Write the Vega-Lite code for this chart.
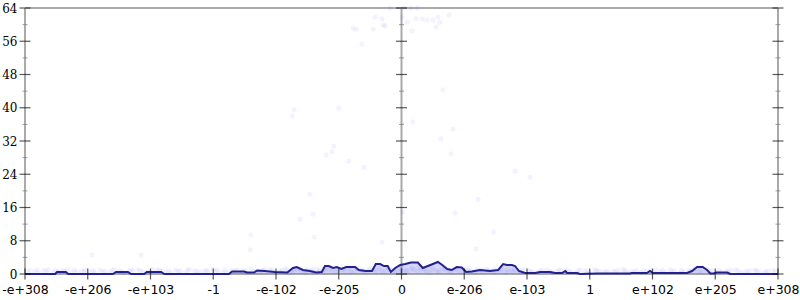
{
  "$schema": "https://vega.github.io/schema/vega-lite/v6.json",
  "width": 753,
  "height": 266,
  "autosize": {"type": "none"},
  "padding": {"left": 25, "top": 8, "right": 22, "bottom": 26},
  "background": "white",
  "config": {"view": {"stroke": null}, "axis": {"grid": false, "domain": false, "ticks": false, "tickSize": 0, "labelColor": "#000", "labelOverlap": false, "labelFlush": false}, "axisY": {"labelFont": "DejaVu Serif", "labelFontSize": 12, "labelPadding": 8}, "axisX": {"labelFont": "DejaVu Sans", "labelFontSize": 12.5, "labelPadding": 9}},
  "datasets": {
    "vaxes": [{"x": -6}, {"x": 0}, {"x": 6}],
    "haxes": [{"y": 0}, {"y": 64}],
    "yticks": [
      {"y": 0, "kind": "major"}, {"y": 4, "kind": "minor"}, {"y": 8, "kind": "major"}, {"y": 12, "kind": "minor"},
      {"y": 16, "kind": "major"}, {"y": 20, "kind": "minor"}, {"y": 24, "kind": "major"}, {"y": 28, "kind": "minor"},
      {"y": 32, "kind": "major"}, {"y": 36, "kind": "minor"}, {"y": 40, "kind": "major"}, {"y": 44, "kind": "minor"},
      {"y": 48, "kind": "major"}, {"y": 52, "kind": "minor"}, {"y": 56, "kind": "major"}, {"y": 60, "kind": "minor"},
      {"y": 64, "kind": "major"}
    ],
    "xticks": [{"x": -6}, {"x": -5}, {"x": -4}, {"x": -3}, {"x": -2}, {"x": -1}, {"x": 0}, {"x": 1}, {"x": 2}, {"x": 3}, {"x": 4}, {"x": 5}, {"x": 6}],
    "density": [
      {"x": -6, "y": 0}, {"x": -5.52, "y": 0}, {"x": -5.49, "y": 0.48}, {"x": -5.35, "y": 0.48}, {"x": -5.31, "y": 0},
      {"x": -4.6, "y": 0}, {"x": -4.55, "y": 0.48}, {"x": -4.36, "y": 0.48}, {"x": -4.31, "y": 0}, {"x": -4.1, "y": 0},
      {"x": -4.06, "y": 0.48}, {"x": -3.83, "y": 0.48}, {"x": -3.78, "y": 0}, {"x": -2.75, "y": 0}, {"x": -2.7, "y": 0.6},
      {"x": -2.51, "y": 0.6}, {"x": -2.46, "y": 0.36}, {"x": -2.35, "y": 0.36}, {"x": -2.3, "y": 0.84}, {"x": -2.18, "y": 0.72},
      {"x": -2.02, "y": 0.48}, {"x": -1.82, "y": 0.36}, {"x": -1.73, "y": 1.44}, {"x": -1.67, "y": 1.68}, {"x": -1.57, "y": 0.96},
      {"x": -1.46, "y": 0.72}, {"x": -1.36, "y": 0.36}, {"x": -1.27, "y": 0.48}, {"x": -1.22, "y": 1.92}, {"x": -1.16, "y": 1.92},
      {"x": -1.09, "y": 1.44}, {"x": -1.03, "y": 1.68}, {"x": -0.96, "y": 1.2}, {"x": -0.88, "y": 1.68}, {"x": -0.74, "y": 1.68},
      {"x": -0.68, "y": 0.96}, {"x": -0.57, "y": 0.72}, {"x": -0.47, "y": 0.72}, {"x": -0.41, "y": 2.4}, {"x": -0.34, "y": 2.4},
      {"x": -0.28, "y": 1.92}, {"x": -0.22, "y": 1.92}, {"x": -0.17, "y": 0.48}, {"x": -0.1, "y": 1.44}, {"x": -0.02, "y": 2.17},
      {"x": 0.06, "y": 2.4}, {"x": 0.15, "y": 2.77}, {"x": 0.26, "y": 2.77}, {"x": 0.34, "y": 1.44}, {"x": 0.42, "y": 1.92},
      {"x": 0.5, "y": 2.4}, {"x": 0.58, "y": 2.89}, {"x": 0.65, "y": 2.17}, {"x": 0.73, "y": 1.2}, {"x": 0.8, "y": 0.96},
      {"x": 0.88, "y": 1.68}, {"x": 0.96, "y": 1.56}, {"x": 1.03, "y": 0.48}, {"x": 1.12, "y": 0.6}, {"x": 1.25, "y": 0.96},
      {"x": 1.41, "y": 0.72}, {"x": 1.54, "y": 0.96}, {"x": 1.62, "y": 2.4}, {"x": 1.68, "y": 2.17}, {"x": 1.76, "y": 2.17},
      {"x": 1.81, "y": 1.92}, {"x": 1.87, "y": 0.72}, {"x": 1.97, "y": 0.24}, {"x": 2.13, "y": 0.24}, {"x": 2.21, "y": 0.48},
      {"x": 2.37, "y": 0.48}, {"x": 2.45, "y": 0.24}, {"x": 2.56, "y": 0.24}, {"x": 2.61, "y": 0.72}, {"x": 2.64, "y": 0.24},
      {"x": 2.8, "y": 0.24}, {"x": 2.84, "y": 0}, {"x": 3.12, "y": 0.12}, {"x": 3.64, "y": 0.12}, {"x": 3.67, "y": 0.24},
      {"x": 3.91, "y": 0.24}, {"x": 3.96, "y": 0.72}, {"x": 4.01, "y": 0.24}, {"x": 4.55, "y": 0.24}, {"x": 4.63, "y": 0.72},
      {"x": 4.71, "y": 1.68}, {"x": 4.8, "y": 1.68}, {"x": 4.87, "y": 0.96}, {"x": 4.92, "y": 0.12}, {"x": 4.98, "y": 0.12},
      {"x": 5.01, "y": 0.36}, {"x": 5.19, "y": 0.36}, {"x": 5.24, "y": 0}, {"x": 6, "y": 0}
    ],
    "points": [
      {"x": -0.42, "y": 61.8}, {"x": -0.31, "y": 61.4}, {"x": -0.29, "y": 59.9}, {"x": -0.26, "y": 59.7}, {"x": -0.45, "y": 58.9},
      {"x": -0.77, "y": 59.2}, {"x": -0.72, "y": 58.9}, {"x": -0.63, "y": 55.3}, {"x": 0.01, "y": 61.8}, {"x": 0.09, "y": 60.6},
      {"x": 0.15, "y": 64}, {"x": 0.25, "y": 64}, {"x": 0.23, "y": 61.4}, {"x": 0.33, "y": 61.4}, {"x": 0.41, "y": 61.1},
      {"x": 0.5, "y": 61.1}, {"x": 0.58, "y": 61.8}, {"x": 0.61, "y": 60.6}, {"x": 0.55, "y": 59.4}, {"x": 0.17, "y": 58.5},
      {"x": 0.76, "y": 62.3}, {"x": 0.66, "y": 44.3}, {"x": -0.18, "y": 64}, {"x": 0.04, "y": 64},
      {"x": -1.71, "y": 39.5}, {"x": -1.74, "y": 38.0}, {"x": -1.0, "y": 39.9}, {"x": -1.08, "y": 30.8}, {"x": -1.11, "y": 29.4},
      {"x": -1.2, "y": 28.6}, {"x": -0.84, "y": 27.2}, {"x": -0.6, "y": 25.7}, {"x": -1.46, "y": 19.2}, {"x": -1.41, "y": 14.4},
      {"x": -1.62, "y": 13.2}, {"x": -2.4, "y": 9.4}, {"x": -1.39, "y": 8.9},
      {"x": 0.18, "y": 36.6}, {"x": 0.82, "y": 34.9}, {"x": 0.63, "y": 32.5}, {"x": 0.79, "y": 28.9}, {"x": 1.81, "y": 24.8},
      {"x": 2.05, "y": 23.3}, {"x": 1.22, "y": 18.0}, {"x": 0.85, "y": 14.7}, {"x": 1.47, "y": 10.1}, {"x": 0.02, "y": 14.9},
      {"x": -4.93, "y": 4.57}, {"x": -4.15, "y": 4.57}, {"x": -2.41, "y": 5.8}, {"x": -0.31, "y": 7.7}, {"x": 1.19, "y": 6.0},
      {"x": -5.85, "y": 0.5}, {"x": -5.7, "y": 0.9}, {"x": -5.55, "y": 0.4}, {"x": -5.4, "y": 0.8}, {"x": -5.25, "y": 0.3},
      {"x": -5.1, "y": 0.7}, {"x": -4.95, "y": 0.5}, {"x": -4.8, "y": 1.0}, {"x": -4.65, "y": 0.4}, {"x": -4.5, "y": 0.8},
      {"x": -4.35, "y": 0.6}, {"x": -4.2, "y": 1.1}, {"x": -4.05, "y": 0.4}, {"x": -3.9, "y": 0.9}, {"x": -3.75, "y": 0.5},
      {"x": -3.6, "y": 1.0}, {"x": -3.45, "y": 0.3}, {"x": -3.3, "y": 0.8}, {"x": -3.15, "y": 0.6}, {"x": -3.0, "y": 1.1},
      {"x": -2.85, "y": 0.4}, {"x": -2.7, "y": 0.9}, {"x": -2.55, "y": 0.6}, {"x": -2.4, "y": 1.2}, {"x": -2.25, "y": 0.5},
      {"x": -2.1, "y": 1.0}, {"x": -1.95, "y": 0.7}, {"x": -1.85, "y": 1.3}, {"x": -1.75, "y": 0.5}, {"x": -1.65, "y": 1.0},
      {"x": -1.55, "y": 0.3}, {"x": -1.45, "y": 0.8}, {"x": -1.35, "y": 1.2}, {"x": -1.25, "y": 0.6}, {"x": -1.15, "y": 1.0},
      {"x": -1.05, "y": 0.4}, {"x": -0.95, "y": 0.9}, {"x": -0.85, "y": 1.3}, {"x": -0.75, "y": 0.6}, {"x": -0.65, "y": 1.1},
      {"x": -0.55, "y": 0.4}, {"x": -0.45, "y": 0.9}, {"x": -0.35, "y": 1.4}, {"x": -0.25, "y": 0.7}, {"x": -0.15, "y": 1.1},
      {"x": -0.05, "y": 0.5}, {"x": 0.05, "y": 1.0}, {"x": 0.15, "y": 1.4}, {"x": 0.25, "y": 0.6}, {"x": 0.35, "y": 1.2},
      {"x": 0.45, "y": 0.4}, {"x": 0.55, "y": 0.9}, {"x": 0.65, "y": 1.3}, {"x": 0.75, "y": 0.7}, {"x": 0.85, "y": 1.1},
      {"x": 0.95, "y": 0.5}, {"x": 1.05, "y": 1.0}, {"x": 1.15, "y": 0.4}, {"x": 1.25, "y": 0.8}, {"x": 1.35, "y": 1.2},
      {"x": 1.45, "y": 0.6}, {"x": 1.55, "y": 1.0}, {"x": 1.65, "y": 0.4}, {"x": 1.75, "y": 0.9}, {"x": 1.85, "y": 0.6},
      {"x": 1.95, "y": 1.1}, {"x": 2.1, "y": 0.5}, {"x": 2.25, "y": 0.9}, {"x": 2.4, "y": 0.4}, {"x": 2.55, "y": 0.8},
      {"x": 2.7, "y": 0.5}, {"x": 2.85, "y": 1.0}, {"x": 3.0, "y": 0.3}, {"x": 3.15, "y": 0.7}, {"x": 3.3, "y": 0.5},
      {"x": 3.45, "y": 0.9}, {"x": 3.6, "y": 0.4}, {"x": 3.75, "y": 0.8}, {"x": 3.9, "y": 0.5}, {"x": 4.05, "y": 1.0},
      {"x": 4.2, "y": 0.4}, {"x": 4.35, "y": 0.8}, {"x": 4.5, "y": 0.6}, {"x": 4.65, "y": 1.0}, {"x": 4.8, "y": 0.4},
      {"x": 4.95, "y": 0.8}, {"x": 5.1, "y": 0.5}, {"x": 5.25, "y": 0.9}, {"x": 5.4, "y": 0.4}, {"x": 5.55, "y": 0.8},
      {"x": 5.7, "y": 0.5}, {"x": 5.85, "y": 0.7},
      {"x": -0.9, "y": 0.6}, {"x": -0.6, "y": 0.8}, {"x": -0.3, "y": 0.5}, {"x": -0.1, "y": 0.8}, {"x": 0.1, "y": 0.6},
      {"x": 0.3, "y": 0.9}, {"x": 0.6, "y": 0.5}, {"x": 0.9, "y": 0.8}, {"x": -1.3, "y": 0.9}, {"x": 1.3, "y": 0.5},
      {"x": -5.92, "y": 0.8}, {"x": -5.78, "y": 0.3}, {"x": -5.63, "y": 1.1}, {"x": -5.47, "y": 0.6}, {"x": -5.32, "y": 1.0},
      {"x": -5.18, "y": 0.4}, {"x": -5.03, "y": 0.9}, {"x": -4.88, "y": 0.3}, {"x": -4.72, "y": 0.7}, {"x": -4.58, "y": 1.1},
      {"x": -4.43, "y": 0.3}, {"x": -4.28, "y": 0.8}, {"x": -4.12, "y": 0.5}, {"x": -3.97, "y": 1.1}, {"x": -3.82, "y": 0.7},
      {"x": -3.67, "y": 0.3}, {"x": -3.53, "y": 0.8}, {"x": -3.38, "y": 1.1}, {"x": -3.22, "y": 0.4}, {"x": -3.08, "y": 0.7},
      {"x": -2.93, "y": 0.9}, {"x": -2.78, "y": 0.3}, {"x": -2.62, "y": 1.0}, {"x": -2.48, "y": 0.5}, {"x": -2.32, "y": 0.8},
      {"x": -2.18, "y": 1.2}, {"x": -2.03, "y": 0.4}, {"x": -1.9, "y": 0.9}, {"x": -1.8, "y": 0.4}, {"x": -1.7, "y": 1.2},
      {"x": -1.6, "y": 0.7}, {"x": -1.5, "y": 1.1}, {"x": -1.4, "y": 0.4}, {"x": -1.2, "y": 1.3}, {"x": -1.1, "y": 0.7},
      {"x": -1.0, "y": 1.2}, {"x": -0.8, "y": 0.4}, {"x": -0.7, "y": 1.0}, {"x": -0.5, "y": 1.3}, {"x": -0.4, "y": 0.6},
      {"x": -0.2, "y": 1.2}, {"x": 0.0, "y": 0.9}, {"x": 0.2, "y": 1.1}, {"x": 0.4, "y": 0.8}, {"x": 0.5, "y": 1.3},
      {"x": 0.7, "y": 1.0}, {"x": 0.8, "y": 0.4}, {"x": 1.0, "y": 1.2}, {"x": 1.1, "y": 0.7}, {"x": 1.2, "y": 1.1},
      {"x": 1.4, "y": 0.9}, {"x": 1.5, "y": 0.4}, {"x": 1.6, "y": 1.2}, {"x": 1.7, "y": 0.6}, {"x": 1.8, "y": 1.0},
      {"x": 1.9, "y": 0.4}, {"x": 2.03, "y": 0.8}, {"x": 2.18, "y": 0.4}, {"x": 2.32, "y": 1.0}, {"x": 2.48, "y": 0.6},
      {"x": 2.62, "y": 1.1}, {"x": 2.78, "y": 0.3}, {"x": 2.93, "y": 0.8}, {"x": 3.08, "y": 1.0}, {"x": 3.22, "y": 0.4},
      {"x": 3.38, "y": 0.7}, {"x": 3.53, "y": 1.1}, {"x": 3.67, "y": 0.6}, {"x": 3.82, "y": 0.3}, {"x": 3.97, "y": 0.8},
      {"x": 4.12, "y": 0.6}, {"x": 4.28, "y": 1.1}, {"x": 4.43, "y": 0.3}, {"x": 4.58, "y": 0.9}, {"x": 4.72, "y": 0.5},
      {"x": 4.88, "y": 1.1}, {"x": 5.03, "y": 0.3}, {"x": 5.18, "y": 0.7}, {"x": 5.32, "y": 1.0}, {"x": 5.47, "y": 0.5},
      {"x": 5.63, "y": 0.9}, {"x": 5.78, "y": 0.4}, {"x": 5.92, "y": 0.8},
      {"x": -5.96, "y": 0.6}, {"x": -5.81, "y": 1.0}, {"x": -5.66, "y": 0.5}, {"x": -5.51, "y": 0.9}, {"x": -5.36, "y": 0.6},
      {"x": -5.21, "y": 1.0}, {"x": -5.06, "y": 0.6}, {"x": -4.91, "y": 0.8}, {"x": -4.76, "y": 0.5}, {"x": -4.61, "y": 0.9},
      {"x": -4.46, "y": 0.6}, {"x": -4.31, "y": 1.0}, {"x": -4.16, "y": 0.7}, {"x": -4.01, "y": 0.6}, {"x": -3.86, "y": 1.0},
      {"x": -3.71, "y": 0.7}, {"x": -3.56, "y": 0.5}, {"x": -3.41, "y": 0.9}, {"x": -3.26, "y": 0.6}, {"x": -3.11, "y": 0.9},
      {"x": -2.96, "y": 0.6}, {"x": -2.81, "y": 1.0}, {"x": -2.66, "y": 0.7}, {"x": -2.51, "y": 0.9}, {"x": -2.36, "y": 0.6},
      {"x": -2.21, "y": 0.9}, {"x": -2.06, "y": 1.1}, {"x": -1.92, "y": 0.6}, {"x": -1.82, "y": 1.0}, {"x": -1.72, "y": 0.8},
      {"x": -1.62, "y": 1.3}, {"x": -1.52, "y": 0.7}, {"x": -1.42, "y": 1.2}, {"x": -1.32, "y": 0.6}, {"x": -1.22, "y": 1.0},
      {"x": -1.12, "y": 1.4}, {"x": -1.02, "y": 0.8}, {"x": -0.92, "y": 1.2}, {"x": -0.82, "y": 0.8}, {"x": -0.72, "y": 1.4},
      {"x": -0.62, "y": 0.6}, {"x": -0.52, "y": 1.0}, {"x": -0.42, "y": 1.2}, {"x": -0.32, "y": 0.9}, {"x": -0.22, "y": 1.5},
      {"x": -0.12, "y": 0.7}, {"x": -0.02, "y": 1.3}, {"x": 0.08, "y": 0.8}, {"x": 0.18, "y": 1.2}, {"x": 0.28, "y": 1.5},
      {"x": 0.38, "y": 0.7}, {"x": 0.48, "y": 1.1}, {"x": 0.58, "y": 0.7}, {"x": 0.68, "y": 1.2}, {"x": 0.78, "y": 0.9},
      {"x": 0.88, "y": 1.4}, {"x": 0.98, "y": 0.8}, {"x": 1.08, "y": 1.3}, {"x": 1.18, "y": 0.6}, {"x": 1.28, "y": 1.0},
      {"x": 1.38, "y": 0.7}, {"x": 1.48, "y": 1.2}, {"x": 1.58, "y": 0.7}, {"x": 1.68, "y": 1.1}, {"x": 1.78, "y": 0.7},
      {"x": 1.88, "y": 0.9}, {"x": 2.06, "y": 0.6}, {"x": 2.21, "y": 0.8}, {"x": 2.36, "y": 0.6}, {"x": 2.51, "y": 1.0},
      {"x": 2.66, "y": 0.6}, {"x": 2.81, "y": 0.8}, {"x": 2.96, "y": 0.5}, {"x": 3.11, "y": 0.9}, {"x": 3.26, "y": 0.7},
      {"x": 3.41, "y": 0.5}, {"x": 3.56, "y": 0.8}, {"x": 3.71, "y": 0.5}, {"x": 3.86, "y": 0.9}, {"x": 4.01, "y": 0.6},
      {"x": 4.16, "y": 0.9}, {"x": 4.31, "y": 0.5}, {"x": 4.46, "y": 0.9}, {"x": 4.61, "y": 0.6}, {"x": 4.76, "y": 0.8},
      {"x": 4.91, "y": 0.6}, {"x": 5.06, "y": 0.9}, {"x": 5.21, "y": 0.5}, {"x": 5.36, "y": 0.8}, {"x": 5.51, "y": 0.6},
      {"x": 5.66, "y": 0.8}, {"x": 5.81, "y": 0.5}, {"x": 5.96, "y": 0.6}
    ]
  },
  "layer": [
    {
      "data": {"name": "vaxes"},
      "mark": {"type": "rule", "color": "#aaaaaa", "strokeWidth": 2},
      "encoding": {
        "x": {"field": "x", "type": "quantitative", "title": null, "scale": {"domain": [-6, 6], "nice": false, "zero": false},
          "axis": {"values": [-6, -5, -4, -3, -2, -1, 0, 1, 2, 3, 4, 5, 6], "tickCount": 20, "labelOverlap": false,
            "labelExpr": "['-e+308','-e+206','-e+103','-1','-e-102','-e-205','0','e-206','e-103','1','e+102','e+205','e+308'][datum.value + 6]"}}
      }
    },
    {
      "data": {"name": "haxes"},
      "mark": {"type": "rule", "color": "#aaaaaa", "strokeWidth": 2},
      "encoding": {
        "y": {"field": "y", "type": "quantitative", "title": null, "scale": {"domain": [0, 64], "nice": false},
          "axis": {"values": [0, 8, 16, 24, 32, 40, 48, 56, 64], "tickCount": 12, "labelOverlap": false}}
      }
    },
    {
      "data": {"name": "points"},
      "mark": {"type": "circle", "color": "#3333ff", "opacity": 0.06, "size": 26, "clip": false},
      "encoding": {
        "x": {"field": "x", "type": "quantitative", "title": null},
        "y": {"field": "y", "type": "quantitative", "title": null}
      }
    },
    {
      "data": {"name": "density"},
      "mark": {"type": "area", "color": "#7777e0", "opacity": 0.3},
      "encoding": {
        "x": {"field": "x", "type": "quantitative", "title": null},
        "y": {"field": "y", "type": "quantitative", "title": null}
      }
    },
    {
      "data": {"name": "density"},
      "mark": {"type": "line", "color": "#22228f", "strokeWidth": 2},
      "encoding": {
        "x": {"field": "x", "type": "quantitative", "title": null},
        "y": {"field": "y", "type": "quantitative", "title": null}
      }
    },
    {
      "data": {"name": "yticks"},
      "transform": [{"filter": "datum.kind === 'major'"}],
      "layer": [
        {"mark": {"type": "tick", "orient": "horizontal", "color": "#111", "size": 11, "thickness": 1.2}, "encoding": {"x": {"datum": -6}, "y": {"field": "y", "type": "quantitative", "title": null}}},
        {"mark": {"type": "tick", "orient": "horizontal", "color": "#111", "size": 11, "thickness": 1.2}, "encoding": {"x": {"datum": 0}, "y": {"field": "y", "type": "quantitative", "title": null}}},
        {"mark": {"type": "tick", "orient": "horizontal", "color": "#111", "size": 11, "thickness": 1.2}, "encoding": {"x": {"datum": 6}, "y": {"field": "y", "type": "quantitative", "title": null}}}
      ]
    },
    {
      "data": {"name": "yticks"},
      "transform": [{"filter": "datum.kind === 'minor'"}],
      "layer": [
        {"mark": {"type": "tick", "orient": "horizontal", "color": "#777", "size": 5, "thickness": 1}, "encoding": {"x": {"datum": -6}, "y": {"field": "y", "type": "quantitative", "title": null}}},
        {"mark": {"type": "tick", "orient": "horizontal", "color": "#777", "size": 5, "thickness": 1}, "encoding": {"x": {"datum": 0}, "y": {"field": "y", "type": "quantitative", "title": null}}},
        {"mark": {"type": "tick", "orient": "horizontal", "color": "#777", "size": 5, "thickness": 1}, "encoding": {"x": {"datum": 6}, "y": {"field": "y", "type": "quantitative", "title": null}}}
      ]
    },
    {
      "data": {"name": "xticks"},
      "mark": {"type": "tick", "orient": "vertical", "color": "#111", "size": 11, "thickness": 1.2},
      "encoding": {
        "x": {"field": "x", "type": "quantitative", "title": null},
        "y": {"datum": 0}
      }
    }
  ]
}
